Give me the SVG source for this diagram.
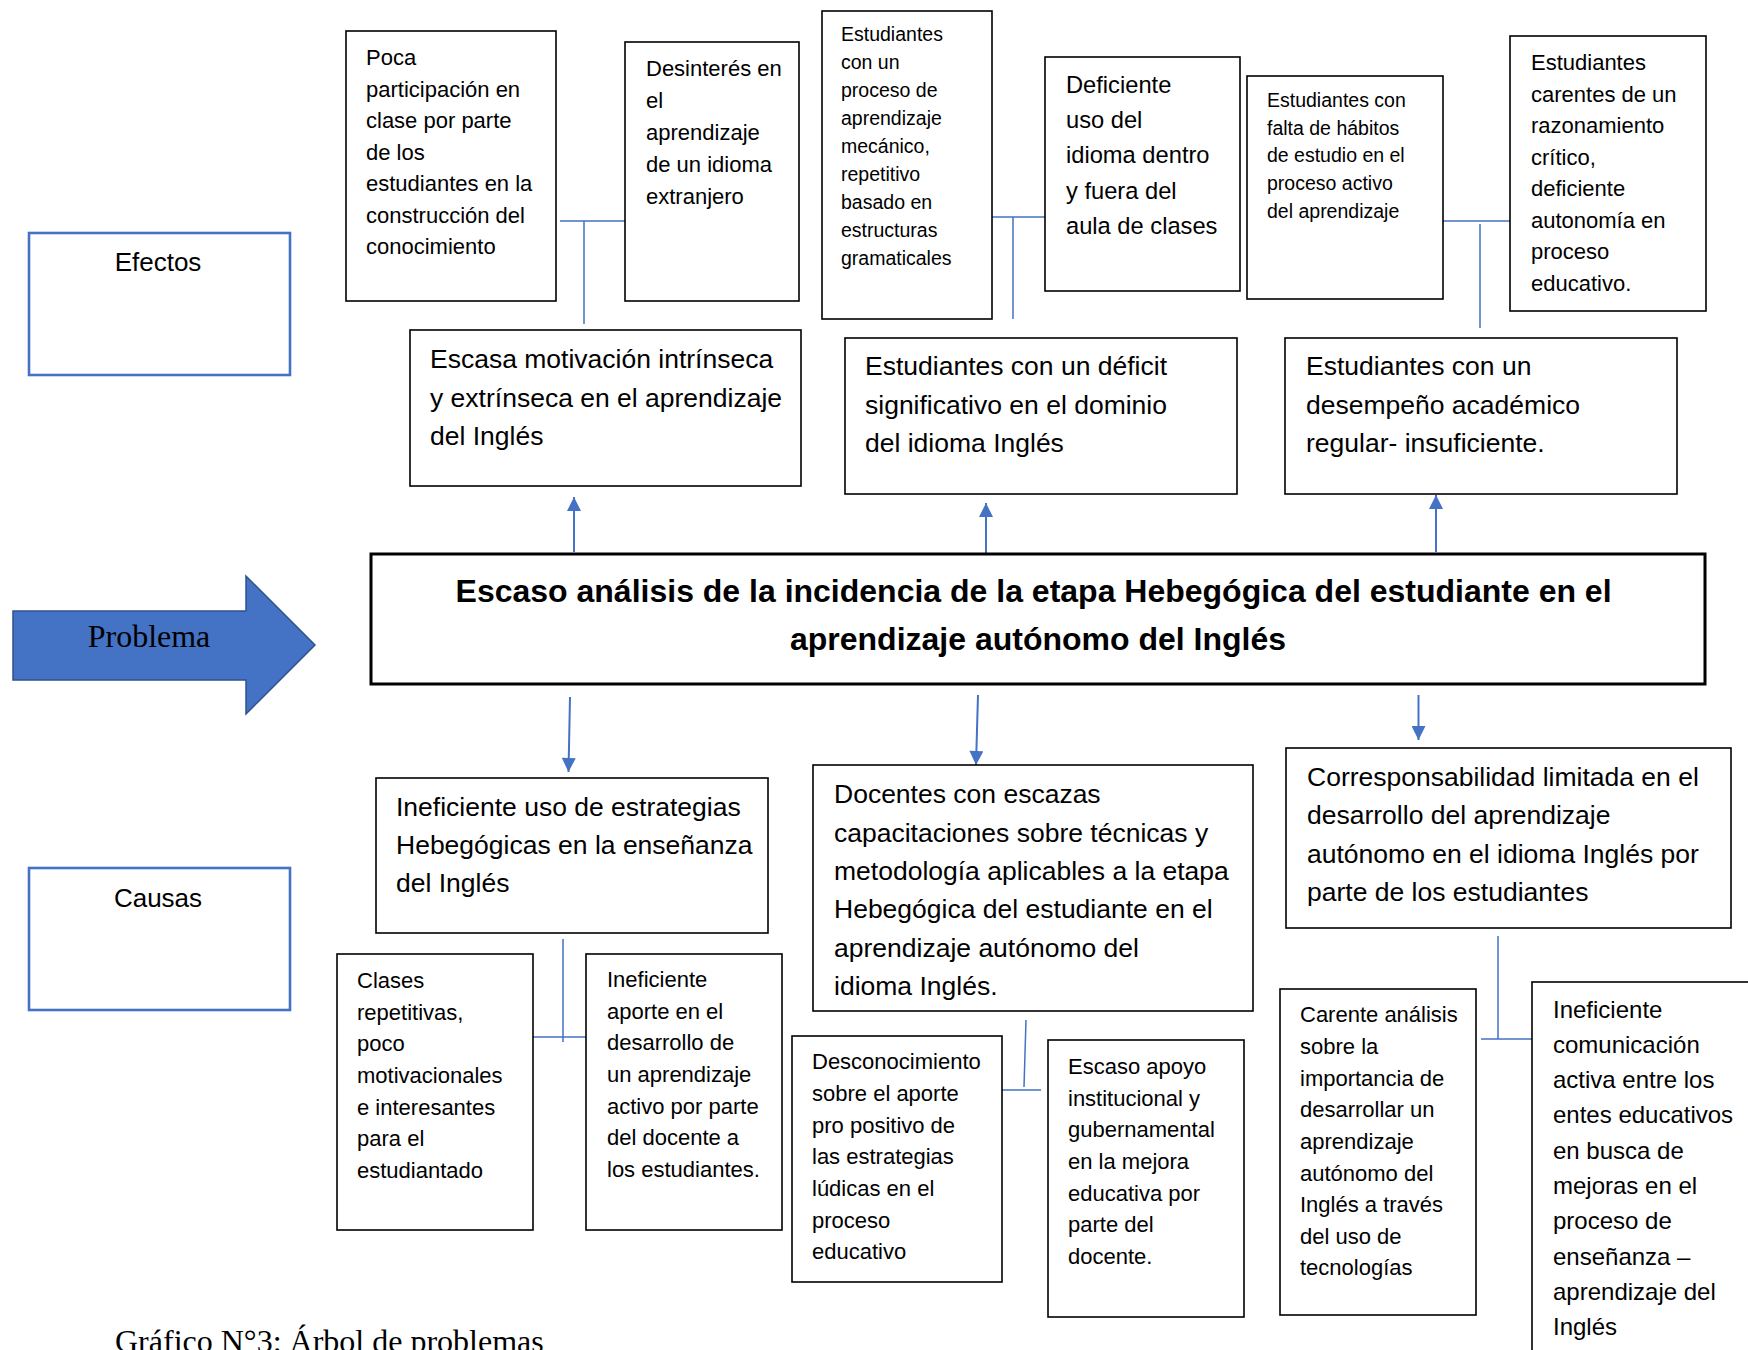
<svg xmlns="http://www.w3.org/2000/svg" width="1748" height="1350" viewBox="0 0 1748 1350">
<style>
.bx{fill:#fff;stroke:#000;stroke-width:1.6}
.lb{fill:#fff;stroke:#4472C4;stroke-width:2.6}
.t{font-family:"Liberation Sans",Arial,sans-serif;fill:#000}
.s19{font-size:19.5px}
.s22{font-size:22px}
.s24{font-size:23.7px}
.s26{font-size:26.5px}
.ln{fill:none;stroke:#4472C4;stroke-width:1.5}
.ar{fill:none;stroke:#4472C4;stroke-width:2;marker-end:url(#ah)}
</style>
<defs>
<marker id="ah" viewBox="0 0 10 10" refX="10" refY="5" markerWidth="16" markerHeight="14" markerUnits="userSpaceOnUse" orient="auto">
<path d="M0,0 L10,5 L0,10 z" fill="#4472C4"/>
</marker>
</defs>
<rect width="1748" height="1350" fill="#fff"/>

<g id="connectors">
<path class="ln" d="M560,221 H625 M584,221 V324"/>
<path class="ln" d="M992,217 H1045 M1013,217 V319"/>
<path class="ln" d="M1443,221 H1510 M1480,224 V328"/>
<path class="ln" d="M533,1037 H586 M563,939 V1042"/>
<path class="ln" d="M1002,1090 H1041 M1026,1020 L1024,1087"/>
<path class="ln" d="M1481,1039 H1532 M1498,936 V1039"/>
<path class="ar" d="M574,552 V497"/>
<path class="ar" d="M986,554 V503"/>
<path class="ar" d="M1436,552 V495"/>
<path class="ar" d="M570,697 L568.5,772"/>
<path class="ar" d="M978,695 L976,765"/>
<path class="ar" d="M1418.5,695 V740"/>
</g>

<g id="efectos">
<rect class="lb" x="29" y="233" width="261" height="142"/>
<text class="t" x="158" y="271" font-size="26" text-anchor="middle">Efectos</text>
</g>

<g id="causas">
<rect class="lb" x="29" y="868" width="261" height="142"/>
<text class="t" x="158" y="907" font-size="26" text-anchor="middle">Causas</text>
</g>

<g id="problema-arrow">
<path d="M13,611 H246 V576 L315,645 L246,714 V680 H13 Z" fill="#4472C4" stroke="#2F528F" stroke-width="1.5"/>
<text x="149" y="647" font-family="'Liberation Serif','Times New Roman',serif" font-size="32" text-anchor="middle" fill="#000">Problema</text>
</g>

<g id="problem">
<rect x="371" y="554" width="1334" height="130" fill="#fff" stroke="#000" stroke-width="3"/>
<text class="t" font-weight="bold" font-size="32" text-anchor="middle">
<tspan x="1038" y="602">Escaso análisis de la incidencia de la etapa Hebegógica del estudiante en el</tspan>
<tspan x="1038" y="650">aprendizaje autónomo del Inglés</tspan>
</text>
</g>

<g id="e-poca">
<rect class="bx" x="346" y="31" width="210" height="270"/>
<text class="t s22">
<tspan x="366" y="65">Poca</tspan>
<tspan x="366" y="96.5">participación en</tspan>
<tspan x="366" y="128">clase por parte</tspan>
<tspan x="366" y="159.5">de los</tspan>
<tspan x="366" y="191">estudiantes en la</tspan>
<tspan x="366" y="222.5">construcción del</tspan>
<tspan x="366" y="254">conocimiento</tspan>
</text>
</g>

<g id="e-desinteres">
<rect class="bx" x="625" y="42" width="174" height="259"/>
<text class="t s22">
<tspan x="646" y="76">Desinterés en</tspan>
<tspan x="646" y="108">el</tspan>
<tspan x="646" y="140">aprendizaje</tspan>
<tspan x="646" y="172">de un idioma</tspan>
<tspan x="646" y="204">extranjero</tspan>
</text>
</g>

<g id="e-mecanico">
<rect class="bx" x="822" y="11" width="170" height="308"/>
<text class="t s19">
<tspan x="841" y="41">Estudiantes</tspan>
<tspan x="841" y="69">con un</tspan>
<tspan x="841" y="97">proceso de</tspan>
<tspan x="841" y="125">aprendizaje</tspan>
<tspan x="841" y="153">mecánico,</tspan>
<tspan x="841" y="181">repetitivo</tspan>
<tspan x="841" y="209">basado en</tspan>
<tspan x="841" y="237">estructuras</tspan>
<tspan x="841" y="265">gramaticales</tspan>
</text>
</g>

<g id="e-deficiente">
<rect class="bx" x="1045" y="57" width="195" height="234"/>
<text class="t s24">
<tspan x="1066" y="93">Deficiente</tspan>
<tspan x="1066" y="128">uso del</tspan>
<tspan x="1066" y="163">idioma dentro</tspan>
<tspan x="1066" y="199">y fuera del</tspan>
<tspan x="1066" y="234">aula de clases</tspan>
</text>
</g>

<g id="e-habitos">
<rect class="bx" x="1247" y="76" width="196" height="223"/>
<text class="t s19">
<tspan x="1267" y="107">Estudiantes con</tspan>
<tspan x="1267" y="134.5">falta de hábitos</tspan>
<tspan x="1267" y="162">de estudio en el</tspan>
<tspan x="1267" y="190">proceso activo</tspan>
<tspan x="1267" y="218">del aprendizaje</tspan>
</text>
</g>

<g id="e-carentes">
<rect class="bx" x="1510" y="36" width="196" height="275"/>
<text class="t s22">
<tspan x="1531" y="70">Estudiantes</tspan>
<tspan x="1531" y="101.5">carentes de un</tspan>
<tspan x="1531" y="133">razonamiento</tspan>
<tspan x="1531" y="164.5">crítico,</tspan>
<tspan x="1531" y="196">deficiente</tspan>
<tspan x="1531" y="227.5">autonomía en</tspan>
<tspan x="1531" y="259">proceso</tspan>
<tspan x="1531" y="290.5">educativo.</tspan>
</text>
</g>

<g id="e-motivacion">
<rect class="bx" x="410" y="330" width="391" height="156"/>
<text class="t s26">
<tspan x="430" y="368">Escasa motivación intrínseca</tspan>
<tspan x="430" y="407">y extrínseca en el aprendizaje</tspan>
<tspan x="430" y="445">del Inglés</tspan>
</text>
</g>

<g id="e-deficit">
<rect class="bx" x="845" y="338" width="392" height="156"/>
<text class="t s26">
<tspan x="865" y="375">Estudiantes con un déficit</tspan>
<tspan x="865" y="414">significativo en el dominio</tspan>
<tspan x="865" y="452">del idioma Inglés</tspan>
</text>
</g>

<g id="e-desempeno">
<rect class="bx" x="1285" y="338" width="392" height="156"/>
<text class="t s26">
<tspan x="1306" y="375">Estudiantes con un</tspan>
<tspan x="1306" y="414">desempeño académico</tspan>
<tspan x="1306" y="452">regular- insuficiente.</tspan>
</text>
</g>

<g id="c-estrategias">
<rect class="bx" x="376" y="778" width="392" height="155"/>
<text class="t s26">
<tspan x="396" y="816">Ineficiente uso de estrategias</tspan>
<tspan x="396" y="854">Hebegógicas en la enseñanza</tspan>
<tspan x="396" y="892">del Inglés</tspan>
</text>
</g>

<g id="c-docentes">
<rect class="bx" x="813" y="765" width="440" height="246"/>
<text class="t s26">
<tspan x="834" y="803">Docentes con escazas</tspan>
<tspan x="834" y="841.5">capacitaciones sobre técnicas y</tspan>
<tspan x="834" y="880">metodología aplicables a la etapa</tspan>
<tspan x="834" y="918">Hebegógica del estudiante en el</tspan>
<tspan x="834" y="957">aprendizaje autónomo del</tspan>
<tspan x="834" y="995">idioma Inglés.</tspan>
</text>
</g>

<g id="c-corresponsabilidad">
<rect class="bx" x="1286" y="748" width="445" height="180"/>
<text class="t s26">
<tspan x="1307" y="786">Corresponsabilidad limitada en el</tspan>
<tspan x="1307" y="824">desarrollo del aprendizaje</tspan>
<tspan x="1307" y="863">autónomo en el idioma Inglés por</tspan>
<tspan x="1307" y="901">parte de los estudiantes</tspan>
</text>
</g>

<g id="c-clases">
<rect class="bx" x="337" y="954" width="196" height="276"/>
<text class="t s22">
<tspan x="357" y="988">Clases</tspan>
<tspan x="357" y="1019.5">repetitivas,</tspan>
<tspan x="357" y="1051">poco</tspan>
<tspan x="357" y="1083">motivacionales</tspan>
<tspan x="357" y="1114.5">e interesantes</tspan>
<tspan x="357" y="1146">para el</tspan>
<tspan x="357" y="1177.5">estudiantado</tspan>
</text>
</g>

<g id="c-aporte">
<rect class="bx" x="586" y="954" width="196" height="276"/>
<text class="t s22">
<tspan x="607" y="987">Ineficiente</tspan>
<tspan x="607" y="1018.5">aporte en el</tspan>
<tspan x="607" y="1050">desarrollo de</tspan>
<tspan x="607" y="1082">un aprendizaje</tspan>
<tspan x="607" y="1113.5">activo por parte</tspan>
<tspan x="607" y="1145">del docente a</tspan>
<tspan x="607" y="1176.5">los estudiantes.</tspan>
</text>
</g>

<g id="c-desconocimiento">
<rect class="bx" x="792" y="1036" width="210" height="246"/>
<text class="t s22">
<tspan x="812" y="1069">Desconocimiento</tspan>
<tspan x="812" y="1101">sobre el aporte</tspan>
<tspan x="812" y="1133">pro positivo de</tspan>
<tspan x="812" y="1164">las estrategias</tspan>
<tspan x="812" y="1196">lúdicas en el</tspan>
<tspan x="812" y="1228">proceso</tspan>
<tspan x="812" y="1259">educativo</tspan>
</text>
</g>

<g id="c-apoyo">
<rect class="bx" x="1048" y="1040" width="196" height="277"/>
<text class="t s22">
<tspan x="1068" y="1074">Escaso apoyo</tspan>
<tspan x="1068" y="1106">institucional y</tspan>
<tspan x="1068" y="1137">gubernamental</tspan>
<tspan x="1068" y="1169">en la mejora</tspan>
<tspan x="1068" y="1201">educativa por</tspan>
<tspan x="1068" y="1232">parte del</tspan>
<tspan x="1068" y="1264">docente.</tspan>
</text>
</g>

<g id="c-carente">
<rect class="bx" x="1280" y="989" width="196" height="326"/>
<text class="t s22">
<tspan x="1300" y="1022">Carente análisis</tspan>
<tspan x="1300" y="1054">sobre la</tspan>
<tspan x="1300" y="1086">importancia de</tspan>
<tspan x="1300" y="1117">desarrollar un</tspan>
<tspan x="1300" y="1149">aprendizaje</tspan>
<tspan x="1300" y="1181">autónomo del</tspan>
<tspan x="1300" y="1212">Inglés a través</tspan>
<tspan x="1300" y="1244">del uso de</tspan>
<tspan x="1300" y="1275">tecnologías</tspan>
</text>
</g>

<g id="c-comunicacion">
<rect class="bx" x="1532" y="982" width="240" height="420"/>
<text class="t" font-size="24">
<tspan x="1553" y="1018">Ineficiente</tspan>
<tspan x="1553" y="1053">comunicación</tspan>
<tspan x="1553" y="1088">activa entre los</tspan>
<tspan x="1553" y="1123">entes educativos</tspan>
<tspan x="1553" y="1159">en busca de</tspan>
<tspan x="1553" y="1194">mejoras en el</tspan>
<tspan x="1553" y="1229">proceso de</tspan>
<tspan x="1553" y="1265">enseñanza –</tspan>
<tspan x="1553" y="1300">aprendizaje del</tspan>
<tspan x="1553" y="1335">Inglés</tspan>
</text>
</g>

<text x="115" y="1352" font-family="'Liberation Serif','Times New Roman',serif" font-size="32" fill="#000">Gráfico N°3: Árbol de problemas</text>
</svg>
